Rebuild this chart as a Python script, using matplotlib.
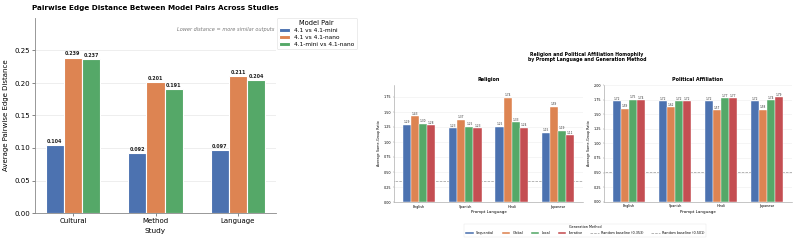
import matplotlib
matplotlib.use("Agg")
import matplotlib.pyplot as plt
import numpy as np

# ---------------- data: left chart ----------------
studies = ["Cultural", "Method", "Language"]
pair_names = ["4.1 vs 4.1-mini", "4.1 vs 4.1-nano", "4.1-mini vs 4.1-nano"]
mini_vals = [0.104, 0.092, 0.097]
nano_vals = [0.239, 0.201, 0.211]
mini_nano_vals = [0.237, 0.191, 0.204]

# ---------------- data: right chart ----------------
languages = ["English", "Spanish", "Hindi", "Japanese"]
methods = ["Sequential", "Global", "Local", "Iterative"]
religion_sequential = [1.29, 1.23, 1.25, 1.15]
religion_global = [1.43, 1.37, 1.74, 1.59]
religion_local = [1.30, 1.25, 1.33, 1.19]
religion_iterative = [1.28, 1.23, 1.24, 1.11]
political_sequential = [1.72, 1.72, 1.72, 1.72]
political_global = [1.59, 1.62, 1.57, 1.58]
political_local = [1.75, 1.72, 1.77, 1.74]
political_iterative = [1.74, 1.72, 1.77, 1.79]
religion_baseline = 0.353
political_baseline = 0.501

colors = ["#4C72B0", "#DD8452", "#55A868", "#C44E52"]

W, H = 799, 243
fig = plt.figure(figsize=(W / 100, H / 100), dpi=100)
fig.patch.set_facecolor("white")


def rect(l, r, b, t):
    return [l / W, (H - b) / H, (r - l) / W, (b - t) / H]


# ================= left chart =================
ax = fig.add_axes(rect(35, 276, 213, 18))
x = np.arange(len(studies))
bw = 0.22
series = [mini_vals, nano_vals, mini_nano_vals]
for i, (vals, name) in enumerate(zip(series, pair_names)):
    bars = ax.bar(x + (i - 1) * bw, vals, bw, color=colors[i], label=name,
                  edgecolor="white", linewidth=0.8, zorder=3)
    for b, v in zip(bars, vals):
        ax.text(b.get_x() + b.get_width() / 2, v + 0.002, f"{v:.3f}",
                ha="center", va="bottom", fontsize=3.5, fontweight="bold",
                color="#222222")
ax.set_xlim(-0.46, 2.46)
ax.set_ylim(0, 0.30)
ax.set_yticks([0, 0.05, 0.10, 0.15, 0.20, 0.25])
ax.set_yticklabels([f"{t:.2f}" for t in [0, 0.05, 0.10, 0.15, 0.20, 0.25]])
ax.set_xticks(x)
ax.set_xticklabels(studies)
ax.tick_params(labelsize=5, length=2, width=0.5, color="#555555", pad=1.5)
ax.grid(axis="y", color="#e8e8e8", linewidth=0.5, zorder=0)
ax.set_axisbelow(True)
for s in ["top", "right"]:
    ax.spines[s].set_visible(False)
for s in ["left", "bottom"]:
    ax.spines[s].set_color("#888888")
    ax.spines[s].set_linewidth(0.6)
ax.set_xlabel("Study", fontsize=5.3, labelpad=3)
ax.set_ylabel("Average Pairwise Edge Distance", fontsize=5.0, labelpad=4)
ax.set_title("Pairwise Edge Distance Between Model Pairs Across Studies",
             fontsize=5.2, fontweight="bold", pad=6)
ax.text(0.995, 0.955, "Lower distance = more similar outputs", transform=ax.transAxes,
        ha="right", va="top", fontsize=3.6, style="italic", color="#777777")
leg = ax.legend(title="Model Pair", loc="upper left", bbox_to_anchor=(1.003, 1.0),
                fontsize=4.2, title_fontsize=4.8, frameon=True, borderaxespad=0,
                handlelength=1.8, handleheight=0.7, labelspacing=0.3,
                borderpad=0.4)
leg.get_frame().set_edgecolor("#dddddd")
leg.get_frame().set_linewidth(0.5)

# ================= right chart =================
fig.text(587 / W, (H - 57) / H,
         "Religion and Political Affiliation Homophily\nby Prompt Language and Generation Method",
         ha="center", va="center", fontsize=3.3, fontweight="bold", linespacing=1.1)

panels = [
    ("Religion", rect(394, 583, 202, 85),
     [religion_sequential, religion_global, religion_local, religion_iterative],
     religion_baseline, 1.95, [0, 0.25, 0.5, 0.75, 1.0, 1.25, 1.5, 1.75]),
    ("Political Affiliation", rect(604, 792, 201.7, 85),
     [political_sequential, political_global, political_local, political_iterative],
     political_baseline, 2.0, [0, 0.25, 0.5, 0.75, 1.0, 1.25, 1.5, 1.75, 2.0]),
]
handles = []
xl = np.arange(len(languages))
bw2 = 0.175
for title, pos, data, base, ymax, yt in panels:
    a = fig.add_axes(pos)
    hs = []
    for i, (vals, m) in enumerate(zip(data, methods)):
        bars = a.bar(xl + (i - 1.5) * bw2, vals, bw2, color=colors[i], label=m,
                     edgecolor="white", linewidth=0.3, zorder=3)
        hs.append(bars)
        for b, v in zip(bars, vals):
            a.text(b.get_x() + b.get_width() / 2, v + 0.01, f"{v:.2f}",
                   ha="center", va="bottom", fontsize=2.1, color="#333333")
    ln, = a.plot([-1, 5], [base, base], ls="--", color="#999999", lw=0.5, zorder=2,
                 label=f"Random baseline ({base:.3f})")
    hs.append(ln)
    handles.append(hs)
    a.set_xlim(-0.54, 3.54)
    a.set_ylim(0, ymax)
    a.set_yticks(yt)
    a.set_yticklabels([f"{t:.2f}" for t in yt])
    a.set_xticks(xl)
    a.set_xticklabels(languages)
    a.tick_params(labelsize=2.4, length=1, width=0.3, pad=1, color="#888888")
    a.grid(axis="y", color="#eeeeee", linewidth=0.4, zorder=0)
    a.set_axisbelow(True)
    for s in ["top", "right"]:
        a.spines[s].set_visible(False)
    for s in ["left", "bottom"]:
        a.spines[s].set_color("#999999")
        a.spines[s].set_linewidth(0.4)
    a.set_title(title, fontsize=3.5, fontweight="bold", pad=3)
    a.set_xlabel("Prompt Language", fontsize=2.9, labelpad=1)
    a.set_ylabel("Average Same-Group Ratio", fontsize=2.4, labelpad=2)

leg_handles = handles[0][:4] + [handles[0][4], handles[1][4]]
leg_labels = methods + [f"Random baseline ({religion_baseline:.3f})",
                        f"Random baseline ({political_baseline:.3f})"]
lg = fig.legend(leg_handles, leg_labels, title="Generation Method", ncol=6,
                loc="center", bbox_to_anchor=(585 / W, (H - 230) / H),
                fontsize=2.4, title_fontsize=2.4, frameon=True,
                handlelength=2.5, handleheight=0.6, columnspacing=2.2,
                borderpad=0.5, handletextpad=0.8)
lg.get_frame().set_edgecolor("#dddddd")
lg.get_frame().set_linewidth(0.3)

fig.savefig("out.png", dpi=100, facecolor="white")
